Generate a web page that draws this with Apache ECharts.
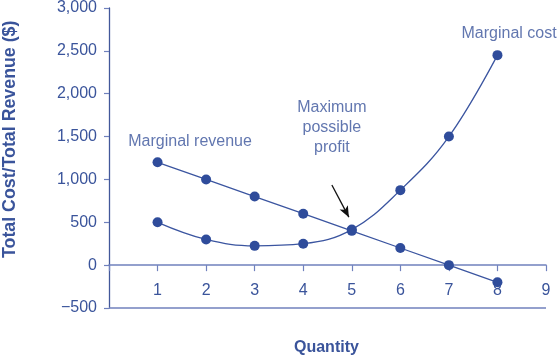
<!DOCTYPE html>
<html>
<head>
<meta charset="utf-8">
<script src="https://cdn.jsdelivr.net/npm/echarts@6/dist/echarts.min.js"></script>
<style>html,body{margin:0;padding:0;background:#fff;}#c{width:559px;height:360px;}</style>
</head>
<body>
<div id="c"></div>
<script>
var quantities = [1, 2, 3, 4, 5, 6, 7, 8];
var marginalRevenue = [1200, 1000, 800, 600, 400, 200, 0, -200];
var marginalCost = [500, 300, 225, 250, 415, 875, 1500, 2450];
var yTicks = [-500, 0, 500, 1000, 1500, 2000, 2500, 3000];
var annotations = [
  {value: [1.67, 1440], name: 'Marginal revenue'},
  {value: [4.59, 1600], name: 'Maximum\npossible\nprofit'},
  {value: [8.24, 2700], name: 'Marginal cost'}
];
var arrowFrom = [4.59, 935];
var arrowTo = [4.94, 560];

var txt = '#3a549b';
var hLineCol = '#7081bd';
var vLineCol = '#42589a';
var lineCol = '#3b55a0';
var dotCol = '#2f4c9b';
var font = 'Liberation Sans, Arial, Helvetica, sans-serif';

var gridTop = 8, gridBottom = 52, chartH = 360;
var yMin = yTicks[0], yMax = yTicks[yTicks.length - 1];
var plotH = chartH - gridTop - gridBottom;
// shift the x axis up so it sits on the value 0
var zeroOffset = -plotH * (0 - yMin) / (yMax - yMin);

function pairs(xs, ys) { return xs.map(function (x, i) { return [x, ys[i]]; }); }
function fmt(v) {
  if (v < 0) return '\u2212' + Math.abs(v).toLocaleString('en-US');
  return v.toLocaleString('en-US');
}

var chart = echarts.init(document.getElementById('c'), null, {renderer: 'canvas'});
chart.setOption({
  animation: false,
  backgroundColor: '#fff',
  textStyle: {fontFamily: font},
  grid: {left: 109, right: 13, top: gridTop, bottom: gridBottom, containLabel: false},
  xAxis: {
    type: 'value', min: 0, max: 9, interval: 1, position: 'bottom', offset: zeroOffset,
    axisLine: {show: true, onZero: false, lineStyle: {color: hLineCol, width: 1.5}},
    axisTick: {show: true, inside: false, length: 6, lineStyle: {color: hLineCol, width: 1.2}},
    axisLabel: {show: true, color: txt, fontSize: 16, fontFamily: font, margin: 17,
      formatter: function (v) { return v === 0 ? '' : String(v); }},
    splitLine: {show: false}
  },
  yAxis: {
    type: 'value', min: yMin, max: yMax, interval: 500,
    axisLine: {show: true, lineStyle: {color: vLineCol, width: 1.3}},
    axisTick: {show: true, length: 5, lineStyle: {color: hLineCol, width: 1.2}},
    axisLabel: {color: txt, fontSize: 16, fontFamily: font, margin: 12, formatter: fmt},
    splitLine: {show: false}
  },
  graphic: [
    {type: 'text', left: 294, top: 340, style: {text: 'Quantity', fill: txt, font: 'bold 16px ' + font}},
    {type: 'text', x: 1, y: 258, rotation: Math.PI / 2,
      style: {text: 'Total Cost/Total Revenue ($)', fill: txt, font: 'bold 17.8px ' + font, textAlign: 'left', textVerticalAlign: 'top'}}
  ],
  series: [{
    name: 'Marginal cost', type: 'line', smooth: 0.4, data: pairs(quantities, marginalCost),
    symbol: 'circle', symbolSize: 10, itemStyle: {color: dotCol},
    lineStyle: {color: lineCol, width: 1.3}
  }, {
    name: 'Marginal revenue', type: 'line', data: pairs(quantities, marginalRevenue),
    symbol: 'circle', symbolSize: 10, itemStyle: {color: dotCol},
    lineStyle: {color: lineCol, width: 1.3},
    markLine: {
      silent: true, symbol: ['none', 'none'], label: {show: false},
      lineStyle: {color: hLineCol, width: 1.5, type: 'solid'},
      data: [{yAxis: yMin}]
    }
  }, {
    name: 'annotations', type: 'scatter', data: annotations, symbolSize: 0,
    silent: true,
    label: {show: true, position: 'inside', formatter: function (p) { return p.name; },
      color: txt, fontSize: 16, fontFamily: font, lineHeight: 20, align: 'center'},
    markLine: {
      silent: true, symbol: ['none', 'arrow'], symbolSize: [7, 11],
      label: {show: false},
      lineStyle: {color: '#111', width: 1.3, type: 'solid'},
      data: [[{coord: arrowFrom}, {coord: arrowTo}]]
    }
  }]
});
</script>
</body>
</html>
